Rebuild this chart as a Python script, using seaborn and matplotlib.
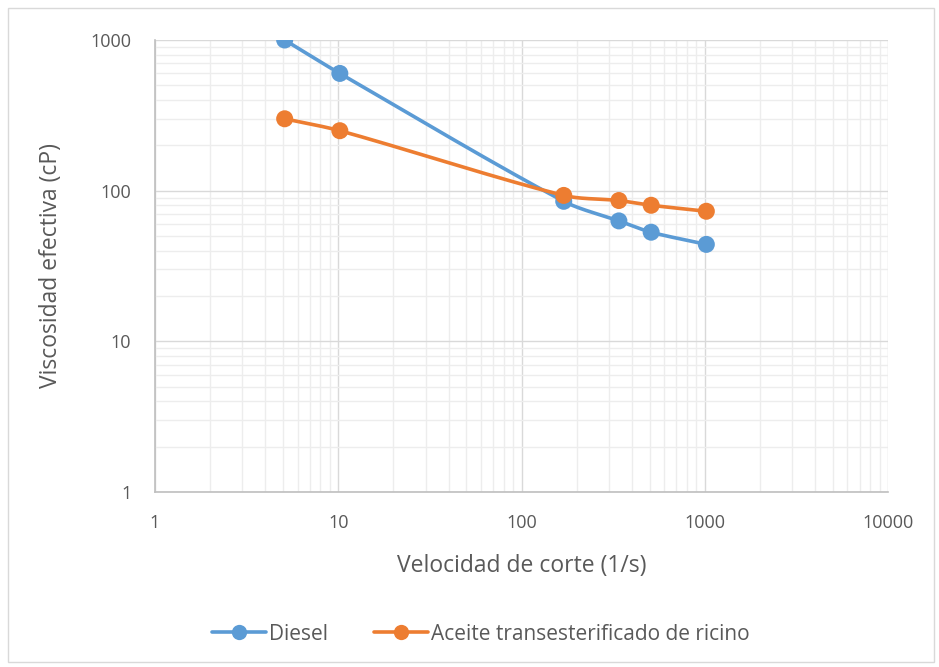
import numpy as np
import pandas as pd
import matplotlib
matplotlib.use("Agg")
import matplotlib.pyplot as plt
import seaborn as sns
from matplotlib.patches import Rectangle
from matplotlib.ticker import FixedLocator, FixedFormatter, LogLocator, NullFormatter

# Shear rates (1/s) and effective viscosities (cP)
shear_rate = [5.1, 10.2, 170, 340, 510, 1020]
diesel = [1000, 600, 85, 63, 53, 44]
ricino = [300, 250, 93, 86, 80, 73]
series_names = ["Diesel", "Aceite transesterificado de ricino"]
series_colors = ["#5B9BD5", "#ED7D31"]
tick_values = [1, 10, 100, 1000, 10000]
y_tick_values = [1, 10, 100, 1000]

df = pd.DataFrame({
    "x": shear_rate * 2,
    "y": diesel + ricino,
    "serie": [series_names[0]] * len(shear_rate) + [series_names[1]] * len(shear_rate),
})

# Pixel lengths of one decade on each axis, used so smoothing works in screen space
X_DECADE, Y_DECADE = 183.25, 150.7


def smooth_curve(xs, ys, n=40, k=0.3):
    """Bezier smoothing through the points, computed in screen-like log space."""
    px = np.log10(np.asarray(xs, float)) * X_DECADE
    py = np.log10(np.asarray(ys, float)) * Y_DECADE
    pts = np.column_stack([px, py])
    m = len(pts)
    tangents = []
    for i in range(m):
        a = pts[i - 1] if i > 0 else pts[i]
        b = pts[i + 1] if i < m - 1 else pts[i]
        d = b - a
        tangents.append(d / np.linalg.norm(d))
    out = []
    for i in range(m - 1):
        p1, p2 = pts[i], pts[i + 1]
        L = np.linalg.norm(p2 - p1)
        c1 = p1 + tangents[i] * L * k
        c2 = p2 - tangents[i + 1] * L * k
        t = np.linspace(0, 1, n)[:, None]
        seg = ((1 - t) ** 3) * p1 + 3 * ((1 - t) ** 2) * t * c1 + 3 * (1 - t) * t ** 2 * c2 + t ** 3 * p2
        out.append(seg if i == 0 else seg[1:])
    seg = np.vstack(out)
    return 10 ** (seg[:, 0] / X_DECADE), 10 ** (seg[:, 1] / Y_DECADE)


sns.set_theme(style="white")
plt.rcParams["font.family"] = ["Open Sans", "DejaVu Sans"]

fig = plt.figure(figsize=(9.39, 6.67), dpi=100)
ax = fig.add_axes([155 / 939, 1 - 492 / 667, (888 - 155) / 939, (492 - 40) / 667])

ax.set_xscale("log")
ax.set_yscale("log")
ax.set_xlim(1, 10000)
ax.set_ylim(1, 1000)

# Gridlines
ax.xaxis.set_minor_locator(LogLocator(base=10, subs=np.arange(2, 10)))
ax.yaxis.set_minor_locator(LogLocator(base=10, subs=np.arange(2, 10)))
ax.xaxis.set_minor_formatter(NullFormatter())
ax.yaxis.set_minor_formatter(NullFormatter())
ax.grid(which="minor", color="#EDEDED", linewidth=1.0)
ax.grid(which="major", color="#D9D9D9", linewidth=1.0)
ax.set_axisbelow(True)

# Smoothed lines
for name, vals, col in zip(series_names, [diesel, ricino], series_colors):
    sx, sy = smooth_curve(shear_rate, vals)
    ax.plot(sx, sy, color=col, linewidth=2.6, solid_capstyle="round", zorder=3)

# Markers
sns.scatterplot(data=df, x="x", y="y", hue="serie", palette=series_colors,
                s=150, edgecolor="none", ax=ax, legend=False, zorder=4)

ax.xaxis.set_major_locator(FixedLocator(tick_values))
ax.xaxis.set_major_formatter(FixedFormatter([str(v) for v in tick_values]))
ax.yaxis.set_major_locator(FixedLocator(y_tick_values))
ax.yaxis.set_major_formatter(FixedFormatter([str(v) for v in y_tick_values]))
ax.tick_params(which="both", length=0, labelsize=13, colors="#595959")
ax.tick_params(axis="x", pad=16)
ax.tick_params(axis="y", pad=17)

for side in ["top", "right"]:
    ax.spines[side].set_visible(False)
for side in ["left", "bottom"]:
    ax.spines[side].set_color("#BFBFBF")
    ax.spines[side].set_linewidth(1.2)

ax.set_xlabel("Velocidad de corte (1/s)", fontsize=16.5, color="#595959", labelpad=16)
ax.set_ylabel("Viscosidad efectiva (cP)", fontsize=16.5, color="#595959", labelpad=20)

# Legend below the plot
handles = [plt.Line2D([], [], color=c, linewidth=2.6, marker="o", markersize=11,
                      markeredgewidth=0) for c in series_colors]
fig.legend(handles, series_names, loc="center", bbox_to_anchor=(0.512, 1 - 634 / 667),
           ncol=2, frameon=False, fontsize=15, labelcolor="#595959",
           handlelength=2.6, handletextpad=0.15, columnspacing=2.2)

# Chart area border
fig.patches.append(Rectangle((8 / 939, 5 / 667), 926 / 939, 654 / 667,
                             transform=fig.transFigure, fill=False,
                             edgecolor="#D9D9D9", linewidth=1.0))

fig.savefig("out.png", dpi=100, facecolor="white")
